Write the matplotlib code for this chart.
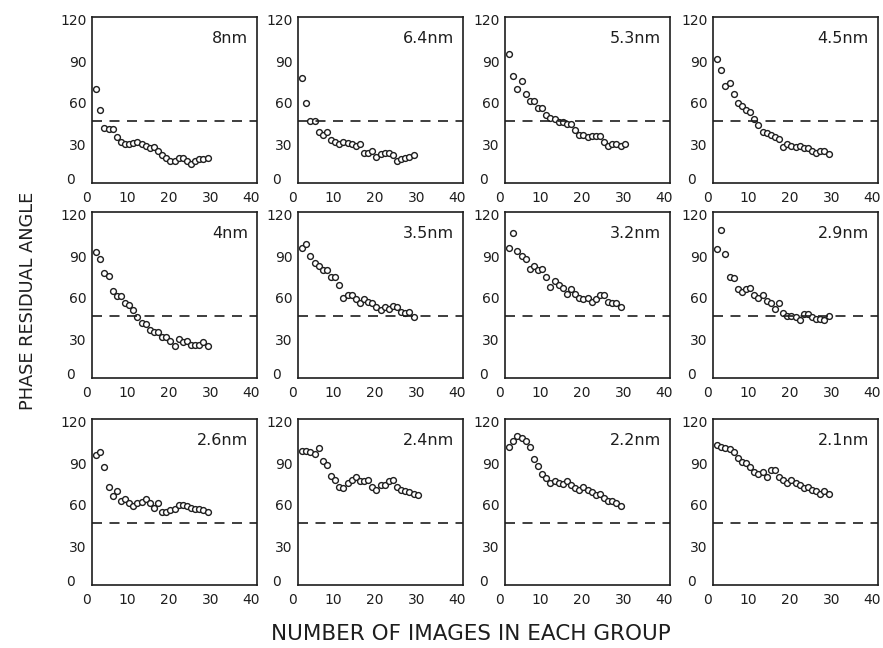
import numpy as np
import matplotlib
matplotlib.use("Agg")
import matplotlib.pyplot as plt
from matplotlib.transforms import ScaledTranslation

plt.rcParams['font.family'] = ['DejaVu Sans']

# ---- data ----
labels = ["8nm", "6.4nm", "5.3nm", "4.5nm",
          "4nm", "3.5nm", "3.2nm", "2.9nm",
          "2.6nm", "2.4nm", "2.2nm", "2.1nm"]

y_8nm = [68, 53, 40, 39, 39, 33, 30, 28, 28, 29, 30, 28, 27, 25, 26, 23, 20, 18,
         16, 16, 18, 18, 16, 14, 16, 17, 17, 18]
y_6_4nm = [76, 58, 45, 45, 37, 35, 37, 31, 30, 28, 30, 29, 28, 27, 28, 22, 22, 23,
           19, 21, 22, 22, 20, 16, 17, 18, 19, 20]
y_5_3nm = [93, 77, 68, 74, 64, 59, 59, 54, 54, 49, 47, 46, 44, 44, 43, 43, 38, 35,
           35, 33, 34, 34, 34, 30, 27, 28, 28, 27, 28]
y_4_5nm = [90, 82, 70, 72, 64, 58, 56, 53, 51, 46, 42, 37, 36, 35, 33, 32, 26, 28,
           27, 26, 27, 25, 25, 23, 22, 23, 23, 21]
y_4nm = [91, 86, 76, 74, 63, 59, 59, 54, 53, 49, 44, 40, 39, 35, 33, 33, 30, 30,
         27, 23, 28, 26, 27, 24, 24, 24, 26, 23]
y_3_5nm = [94, 97, 88, 83, 81, 78, 78, 73, 73, 67, 58, 60, 60, 57, 54, 57, 55, 54,
           51, 49, 51, 50, 52, 51, 48, 47, 48, 44]
y_3_2nm = [94, 105, 92, 88, 86, 79, 81, 78, 79, 73, 66, 70, 67, 65, 61, 64, 61, 58,
           57, 58, 55, 57, 60, 60, 55, 54, 54, 51]
y_2_9nm = [93, 107, 90, 73, 72, 64, 62, 64, 65, 60, 58, 60, 56, 54, 50, 54, 47, 45,
           45, 44, 42, 46, 46, 44, 43, 43, 42, 45]
y_2_6nm = [94, 96, 85, 71, 64, 68, 61, 62, 59, 57, 59, 60, 62, 59, 56, 59, 53, 53,
           54, 55, 58, 58, 57, 56, 55, 55, 54, 53]
y_2_4nm = [97, 97, 96, 95, 99, 90, 87, 79, 76, 71, 70, 74, 76, 78, 75, 75, 76, 71,
           69, 72, 72, 75, 76, 71, 69, 68, 67, 66, 65]
y_2_2nm = [100, 104, 108, 106, 104, 100, 91, 86, 80, 77, 74, 75, 74, 73, 75, 72, 70,
           69, 71, 69, 67, 65, 66, 63, 61, 61, 59, 57]
y_2_1nm = [101, 100, 99, 98, 96, 92, 89, 88, 85, 82, 80, 82, 78, 83, 83, 78, 76, 74,
           76, 74, 72, 70, 71, 69, 68, 66, 68, 66]

series = [y_8nm, y_6_4nm, y_5_3nm, y_4_5nm,
          y_4nm, y_3_5nm, y_3_2nm, y_2_9nm,
          y_2_6nm, y_2_4nm, y_2_2nm, y_2_1nm]

threshold = 45
x_ticks = [0, 10, 20, 30, 40]
y_ticks = [0, 30, 60, 90, 120]
x_label = "NUMBER OF IMAGES IN EACH GROUP"
y_label = "PHASE RESIDUAL ANGLE"

# ---- layout ----
W, H = 883, 648
fig = plt.figure(figsize=(W / 100, H / 100), dpi=100)
col_left = [92, 298, 505, 713]
row_top = [17, 212, 419]
aw, ah = 165, 166
ink = "#1e1e1e"

for i, (lab, ys) in enumerate(zip(labels, series)):
    r, c = divmod(i, 4)
    l = col_left[c] / W
    b = 1 - (row_top[r] + ah) / H
    ax = fig.add_axes([l, b, aw / W, ah / H])
    xs = np.arange(1, len(ys) + 1)
    ax.plot(xs, ys, linestyle="none", marker="o", markersize=4.2,
            markerfacecolor="white", markeredgecolor=ink, markeredgewidth=1.0)
    ax.axhline(threshold, color=ink, linewidth=1.2, linestyle=(0, (6, 4.5)))
    ax.set_xlim(0, 40)
    ax.set_ylim(0, 120)
    ax.set_xticks(x_ticks)
    ax.set_yticks(y_ticks)
    ax.tick_params(length=0, labelsize=10, colors=ink)
    ax.tick_params(axis="x", pad=6)
    ax.tick_params(axis="y", pad=4)
    for k, t in enumerate(ax.get_xticklabels()):
        t.set_transform(t.get_transform() + ScaledTranslation(-4 / 72, 0, fig.dpi_scale_trans))
    for k, t in enumerate(ax.get_yticklabels()):
        dy = 3 if k == 0 else -2
        dx = -8 if k == 0 else 0
        t.set_transform(t.get_transform() + ScaledTranslation(dx / 72, dy / 72, fig.dpi_scale_trans))
    for sp in ax.spines.values():
        sp.set_linewidth(1.2)
        sp.set_color(ink)
    ax.text(0.945, 0.873, lab, transform=ax.transAxes, ha="right", va="center",
            fontsize=11.5, color=ink)

fig.text(28 / W, 1 - 301 / H, y_label, rotation=90, ha="center", va="center",
         fontsize=12.8, color=ink)
fig.text(471 / W, 1 - 634 / H, x_label, ha="center", va="center",
         fontsize=15.5, color=ink)

fig.savefig("out.png", dpi=100, facecolor="white")
